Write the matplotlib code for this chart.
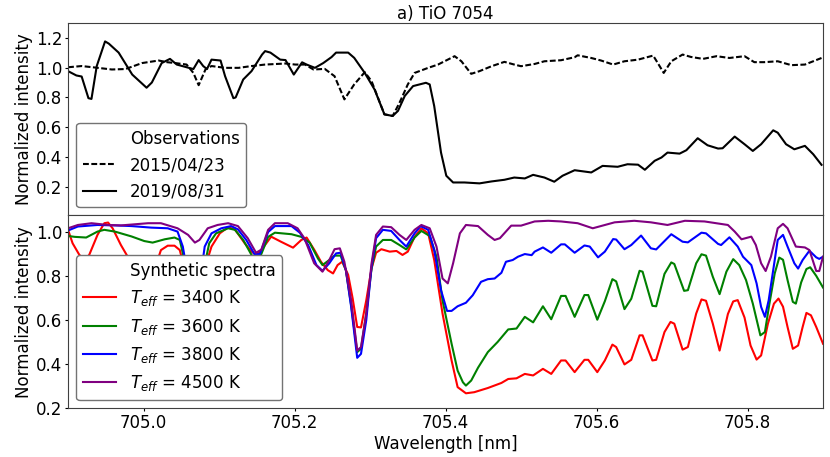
import matplotlib
matplotlib.use("Agg")
import matplotlib.pyplot as plt

plt.rcParams['font.family'] = ['DejaVu Sans']
plt.rcParams['font.size'] = 12

# ---------------- Observations (top panel) ----------------
obs2019_wl = [704.900, 704.911, 704.918, 704.927, 704.931, 704.938, 704.949, 704.954, 704.967, 704.985,
              705.004, 705.011, 705.024, 705.035, 705.044, 705.060, 705.066, 705.073, 705.079, 705.084,
              705.090, 705.102, 705.108, 705.119, 705.122, 705.132, 705.143, 705.157, 705.161, 705.168,
              705.181, 705.188, 705.199, 705.210, 705.216, 705.227, 705.238, 705.249, 705.255, 705.271,
              705.279, 705.293, 705.306, 705.319, 705.330, 705.337, 705.346, 705.357, 705.374, 705.379,
              705.385, 705.394, 705.401, 705.410, 705.425, 705.445, 705.461, 705.478, 705.491, 705.505,
              705.516, 705.531, 705.544, 705.555, 705.571, 705.593, 705.608, 705.628, 705.641, 705.655,
              705.664, 705.677, 705.686, 705.694, 705.710, 705.719, 705.734, 705.747, 705.761, 705.767,
              705.783, 705.796, 705.807, 705.818, 705.834, 705.840, 705.851, 705.862, 705.876, 705.887,
              705.898]
obs2019_flux = [0.976, 0.947, 0.940, 0.795, 0.790, 1.010, 1.175, 1.160, 1.100, 0.953,
                0.865, 0.900, 1.030, 1.058, 1.020, 0.998, 0.990, 1.050, 1.010, 0.990,
                1.053, 1.047, 0.942, 0.795, 0.800, 0.920, 0.976, 1.087, 1.110, 1.100,
                1.053, 1.050, 0.953, 1.035, 1.020, 0.998, 1.030, 1.070, 1.100, 1.100,
                1.065, 0.964, 0.853, 0.687, 0.676, 0.710, 0.810, 0.876, 0.898, 0.887,
                0.742, 0.431, 0.276, 0.231, 0.231, 0.225, 0.238, 0.249, 0.264, 0.258,
                0.282, 0.264, 0.236, 0.276, 0.313, 0.298, 0.342, 0.336, 0.353, 0.350,
                0.316, 0.376, 0.398, 0.431, 0.424, 0.447, 0.527, 0.480, 0.458, 0.460,
                0.538, 0.487, 0.442, 0.487, 0.580, 0.564, 0.487, 0.453, 0.476, 0.420,
                0.349]

obs2015_wl = [704.900, 704.918, 704.936, 704.958, 704.976, 704.998, 705.020, 705.031, 705.042, 705.057,
              705.066, 705.073, 705.082, 705.090, 705.108, 705.126, 705.143, 705.161, 705.188, 705.201,
              705.214, 705.225, 705.240, 705.253, 705.266, 705.279, 705.293, 705.302, 705.319, 705.330,
              705.339, 705.350, 705.359, 705.377, 705.390, 705.403, 705.412, 705.421, 705.434, 705.445,
              705.461, 705.478, 705.491, 705.500, 705.518, 705.531, 705.553, 705.571, 705.575, 705.593,
              705.606, 705.622, 705.637, 705.655, 705.675, 705.681, 705.689, 705.699, 705.714, 705.725,
              705.741, 705.759, 705.776, 705.796, 705.809, 705.822, 705.840, 705.858, 705.876, 705.898]
obs2015_flux = [1.002, 1.010, 1.000, 0.987, 0.990, 1.030, 1.047, 1.036, 1.030, 1.020,
                0.964, 0.882, 0.987, 1.010, 0.998, 0.998, 1.010, 1.020, 1.027, 1.020,
                1.020, 0.987, 0.991, 0.942, 0.787, 0.887, 0.969, 0.909, 0.687, 0.676,
                0.764, 0.887, 0.964, 0.998, 1.020, 1.053, 1.076, 1.042, 0.958, 0.976,
                1.009, 1.038, 1.020, 1.009, 1.024, 1.042, 1.049, 1.069, 1.082, 1.064,
                1.047, 1.020, 1.042, 1.053, 1.080, 1.031, 0.964, 1.042, 1.087, 1.071,
                1.058, 1.076, 1.064, 1.076, 1.036, 1.036, 1.042, 1.016, 1.020, 1.064]

# ---------------- Synthetic spectra (bottom panel) ----------------
t4500_wl = [704.900, 704.913, 704.931, 704.953, 704.970, 704.988, 705.006, 705.023, 705.045, 705.059,
            705.068, 705.074, 705.085, 705.098, 705.112, 705.125, 705.138, 705.149, 705.156, 705.165,
            705.174, 705.191, 705.204, 705.213, 705.226, 705.237, 705.246, 705.253, 705.260, 705.266,
            705.275, 705.283, 705.288, 705.295, 705.302, 705.308, 705.317, 705.328, 705.339, 705.348,
            705.359, 705.368, 705.379, 705.388, 705.396, 705.403, 705.410, 705.419, 705.427, 705.443,
            705.456, 705.465, 705.472, 705.487, 705.500, 705.518, 705.536, 705.553, 705.575, 705.595,
            705.624, 705.650, 705.672, 705.694, 705.717, 705.743, 705.774, 705.783, 705.792, 705.805,
            705.811, 705.818, 705.824, 705.831, 705.840, 705.847, 705.853, 705.864, 705.876, 705.882,
            705.891, 705.895, 705.900]
t4500_flux = [1.017, 1.032, 1.040, 1.032, 1.030, 1.035, 1.040, 1.040, 1.017, 0.987,
              0.952, 0.964, 1.017, 1.032, 1.040, 1.027, 0.972, 0.906, 0.920, 1.010,
              1.040, 1.040, 1.017, 0.972, 0.858, 0.820, 0.873, 0.922, 0.926, 0.865,
              0.690, 0.462, 0.478, 0.630, 0.858, 0.987, 1.025, 1.022, 0.987, 0.964,
              1.010, 1.032, 1.017, 0.934, 0.789, 0.767, 0.858, 0.994, 1.032, 1.027,
              0.987, 0.964, 0.972, 1.029, 1.029, 1.048, 1.051, 1.048, 1.040, 1.017,
              1.044, 1.051, 1.044, 1.032, 1.051, 1.048, 1.032, 1.002, 0.967, 0.979,
              0.941, 0.858, 0.823, 0.888, 1.017, 1.037, 1.017, 0.934, 0.930, 0.918,
              0.823, 0.823, 0.888]

t3800_wl = [704.900, 704.913, 704.939, 704.962, 704.984, 705.010, 705.032, 705.045, 705.052, 705.057,
            705.062, 705.068, 705.075, 705.077, 705.081, 705.090, 705.103, 705.116, 705.125, 705.136,
            705.147, 705.154, 705.165, 705.174, 705.196, 705.207, 705.218, 705.229, 705.237, 705.246,
            705.255, 705.261, 705.268, 705.275, 705.283, 705.288, 705.295, 705.302, 705.308, 705.317,
            705.328, 705.339, 705.348, 705.359, 705.367, 705.377, 705.385, 705.394, 705.402, 705.408,
            705.416, 705.427, 705.436, 705.447, 705.456, 705.465, 705.474, 705.480, 705.489, 705.496,
            705.505, 705.514, 705.518, 705.529, 705.540, 705.553, 705.558, 705.571, 705.584, 705.591,
            705.602, 705.611, 705.622, 705.626, 705.637, 705.646, 705.659, 705.672, 705.679, 705.699,
            705.714, 705.721, 705.739, 705.745, 705.761, 705.765, 705.776, 705.787, 705.794, 705.805,
            705.812, 705.818, 705.823, 705.828, 705.834, 705.840, 705.847, 705.853, 705.862, 705.867,
            705.873, 705.882, 705.891, 705.895, 705.900]
t3800_flux = [1.007, 1.025, 1.032, 1.030, 1.027, 1.020, 1.017, 1.002, 0.934, 0.835,
              0.600, 0.450, 0.600, 0.835, 0.934, 0.994, 1.017, 1.027, 1.012, 0.964,
              0.899, 0.900, 1.000, 1.027, 1.027, 0.997, 0.941, 0.850, 0.824, 0.858,
              0.903, 0.906, 0.827, 0.660, 0.429, 0.447, 0.600, 0.843, 0.972, 1.010,
              1.005, 0.964, 0.934, 0.994, 1.027, 1.010, 0.918, 0.736, 0.642, 0.642,
              0.663, 0.679, 0.713, 0.774, 0.786, 0.789, 0.815, 0.865, 0.873, 0.888,
              0.900, 0.895, 0.911, 0.930, 0.906, 0.944, 0.944, 0.906, 0.939, 0.934,
              0.885, 0.911, 0.968, 0.966, 0.922, 0.941, 0.984, 0.926, 0.921, 0.990,
              0.956, 0.953, 0.997, 0.994, 0.946, 0.941, 0.976, 0.934, 0.888, 0.850,
              0.767, 0.660, 0.615, 0.690, 0.827, 0.964, 0.987, 0.934, 0.858, 0.834,
              0.873, 0.915, 0.885, 0.878, 0.888]

t3600_wl = [704.900, 704.909, 704.924, 704.939, 704.948, 704.962, 704.984, 705.001, 705.012, 705.028,
            705.041, 705.048, 705.054, 705.057, 705.063, 705.069, 705.076, 705.080, 705.087, 705.096,
            705.112, 705.121, 705.132, 705.143, 705.149, 705.156, 705.165, 705.174, 705.196, 705.209,
            705.220, 705.231, 705.237, 705.246, 705.253, 705.261, 705.268, 705.275, 705.283, 705.288,
            705.295, 705.302, 705.308, 705.317, 705.328, 705.339, 705.348, 705.359, 705.368, 705.379,
            705.388, 705.396, 705.408, 705.416, 705.423, 705.427, 705.434, 705.443, 705.456, 705.469,
            705.483, 705.494, 705.505, 705.516, 705.529, 705.540, 705.553, 705.559, 705.571, 705.584,
            705.589, 705.601, 705.611, 705.621, 705.626, 705.637, 705.646, 705.657, 705.661, 705.674,
            705.679, 705.690, 705.699, 705.703, 705.716, 705.721, 705.732, 705.739, 705.745, 705.754,
            705.763, 705.772, 705.781, 705.789, 705.798, 705.807, 705.817, 705.823, 705.829, 705.836,
            705.842, 705.847, 705.853, 705.860, 705.864, 705.871, 705.878, 705.883, 705.891, 705.900]
t3600_flux = [0.982, 0.978, 0.975, 1.002, 1.010, 1.002, 0.980, 0.959, 0.952, 0.967,
              0.975, 0.964, 0.873, 0.835, 0.600, 0.500, 0.600, 0.835, 0.949, 0.994,
              1.017, 1.010, 0.964, 0.896, 0.873, 0.900, 0.978, 0.997, 0.990, 0.978,
              0.952, 0.880, 0.850, 0.873, 0.893, 0.893, 0.827, 0.667, 0.455, 0.470,
              0.630, 0.835, 0.934, 0.964, 0.964, 0.941, 0.921, 0.975, 1.005, 0.982,
              0.888, 0.690, 0.493, 0.371, 0.318, 0.303, 0.326, 0.384, 0.455, 0.501,
              0.558, 0.562, 0.615, 0.590, 0.663, 0.604, 0.710, 0.710, 0.615, 0.714,
              0.714, 0.602, 0.686, 0.786, 0.776, 0.650, 0.697, 0.824, 0.820, 0.665,
              0.663, 0.810, 0.862, 0.855, 0.733, 0.736, 0.858, 0.899, 0.893, 0.797,
              0.718, 0.820, 0.877, 0.850, 0.782, 0.675, 0.531, 0.546, 0.675, 0.812,
              0.884, 0.874, 0.782, 0.683, 0.675, 0.771, 0.832, 0.840, 0.801, 0.748]

t3400_wl = [704.900, 704.906, 704.915, 704.922, 704.928, 704.939, 704.948, 704.953, 704.959, 704.970,
            704.979, 704.988, 705.000, 705.008, 705.015, 705.023, 705.032, 705.041, 705.048, 705.054,
            705.062, 705.068, 705.075, 705.081, 705.090, 705.101, 705.112, 705.121, 705.134, 705.143,
            705.149, 705.156, 705.169, 705.182, 705.198, 705.209, 705.216, 705.226, 705.235, 705.244,
            705.251, 705.257, 705.263, 705.271, 705.277, 705.283, 705.288, 705.295, 705.302, 705.308,
            705.315, 705.326, 705.335, 705.343, 705.350, 705.359, 705.368, 705.377, 705.385, 705.396,
            705.408, 705.416, 705.427, 705.438, 705.456, 705.474, 705.483, 705.494, 705.505, 705.516,
            705.529, 705.540, 705.553, 705.559, 705.571, 705.584, 705.589, 705.601, 705.611, 705.621,
            705.626, 705.637, 705.646, 705.657, 705.661, 705.674, 705.679, 705.690, 705.698, 705.703,
            705.714, 705.721, 705.732, 705.739, 705.745, 705.754, 705.763, 705.774, 705.781, 705.787,
            705.796, 705.804, 705.812, 705.818, 705.827, 705.835, 705.841, 705.847, 705.853, 705.860,
            705.867, 705.873, 705.878, 705.884, 705.891, 705.900]
t3400_flux = [1.010, 0.949, 0.896, 0.876, 0.896, 0.987, 1.040, 1.043, 1.017, 0.941,
              0.888, 0.835, 0.760, 0.770, 0.835, 0.918, 0.938, 0.938, 0.918, 0.835,
              0.650, 0.550, 0.650, 0.835, 0.934, 0.994, 1.022, 1.012, 0.949, 0.911,
              0.896, 0.918, 0.979, 0.956, 0.929, 0.964, 0.975, 0.920, 0.865, 0.827,
              0.812, 0.850, 0.865, 0.806, 0.698, 0.569, 0.567, 0.690, 0.835, 0.906,
              0.922, 0.911, 0.914, 0.896, 0.911, 0.978, 1.017, 0.994, 0.873, 0.630,
              0.417, 0.296, 0.268, 0.273, 0.292, 0.315, 0.333, 0.336, 0.356, 0.349,
              0.379, 0.356, 0.417, 0.417, 0.364, 0.420, 0.420, 0.364, 0.417, 0.489,
              0.478, 0.399, 0.420, 0.531, 0.531, 0.417, 0.420, 0.546, 0.592, 0.584,
              0.466, 0.478, 0.630, 0.694, 0.688, 0.584, 0.462, 0.628, 0.685, 0.691,
              0.612, 0.485, 0.421, 0.440, 0.584, 0.675, 0.698, 0.661, 0.569, 0.470,
              0.485, 0.569, 0.633, 0.622, 0.569, 0.493]

obs_labels = ['2015/04/23', '2019/08/31']
syn_labels = [r'$T_{eff}$ = 3400 K', r'$T_{eff}$ = 3600 K',
              r'$T_{eff}$ = 3800 K', r'$T_{eff}$ = 4500 K']
syn_colors = ['red', 'green', 'blue', 'purple']
top_yticks = [0.2, 0.4, 0.6, 0.8, 1.0, 1.2]
bot_yticks = [0.2, 0.4, 0.6, 0.8, 1.0]
x_ticks = [705.0, 705.2, 705.4, 705.6, 705.8]

fig, (ax1, ax2) = plt.subplots(2, 1, sharex=True, figsize=(8.3, 4.57), dpi=100)
fig.subplots_adjust(left=0.082, right=0.9916, top=0.9503, bottom=0.1066, hspace=0)

# Top panel
ax1.plot([], [], ' ', label='Observations')
ax1.plot(obs2015_wl, obs2015_flux, color='black', lw=1.5, ls=(0, (2.8, 1.2)), label=obs_labels[0])
ax1.plot(obs2019_wl, obs2019_flux, color='black', lw=1.5, label=obs_labels[1])
ax1.set_ylim(0.01, 1.3)
ax1.set_yticks(top_yticks)
ax1.set_ylabel('Normalized intensity', labelpad=2)
ax1.set_title('a) TiO 7054', fontsize=12, pad=3)
ax1.legend(loc='lower left', framealpha=1, edgecolor='0.45', fontsize=12)

# Bottom panel
ax2.plot([], [], ' ', label='Synthetic spectra')
for wl, fl, c, lab in zip([t3400_wl, t3600_wl, t3800_wl, t4500_wl],
                          [t3400_flux, t3600_flux, t3800_flux, t4500_flux],
                          syn_colors, syn_labels):
    ax2.plot(wl, fl, color=c, lw=1.5, label=lab)
ax2.set_ylim(0.2, 1.075)
ax2.set_yticks(bot_yticks)
ax2.set_xlim(704.9, 705.9)
ax2.set_xticks(x_ticks)
ax2.set_xticklabels([f'{v:.1f}' for v in x_ticks])
ax2.set_xlabel('Wavelength [nm]', labelpad=2)
ax2.set_ylabel('Normalized intensity', labelpad=2)
ax2.legend(loc='lower left', framealpha=1, edgecolor='0.45', fontsize=12)

for ax in (ax1, ax2):
    ax.tick_params(length=2, pad=2)
    for s in ax.spines.values():
        s.set_edgecolor('0.25')

fig.savefig('out.png', dpi=100)
